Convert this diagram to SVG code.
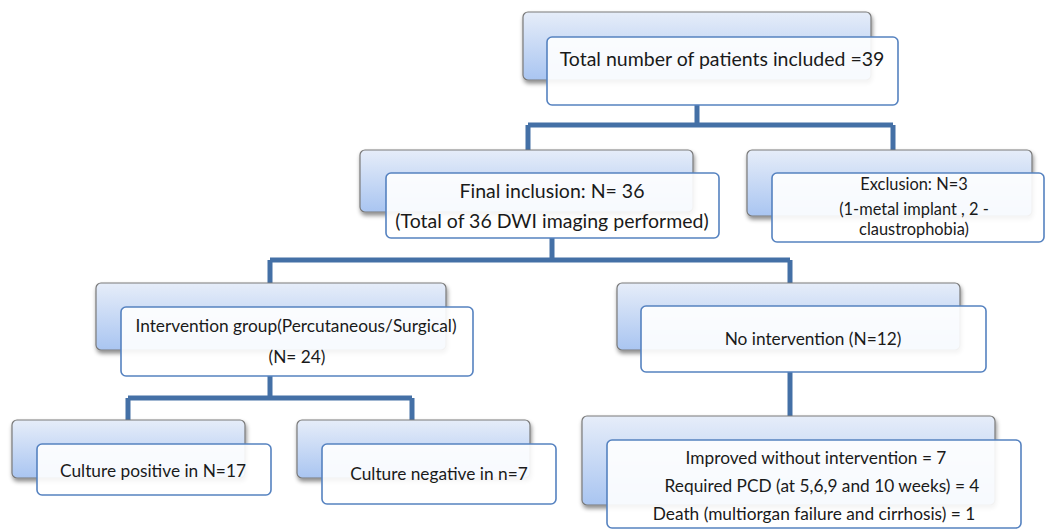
<svg xmlns="http://www.w3.org/2000/svg" width="1048" height="530" viewBox="0 0 1048 530">
<defs>
<linearGradient id="bg" x1="0" y1="0" x2="0" y2="1">
<stop offset="0" stop-color="#e6edf9"/>
<stop offset="1" stop-color="#a9c5f1"/>
</linearGradient>
<filter id="sh" x="-10%" y="-20%" width="120%" height="150%">
<feDropShadow dx="1" dy="3" stdDeviation="2" flood-color="#000" flood-opacity="0.45"/>
</filter>
</defs>
<style>
.back{fill:url(#bg);stroke:#7a7a7a;stroke-width:1.2;filter:url(#sh)}
.front{fill:#ffffff;fill-opacity:0.9;stroke:#5582c0;stroke-width:1.6}
.conn{fill:none;stroke:#4470a6;stroke-width:5}
text{font-family:Lato,"Liberation Sans",sans-serif;fill:#1a1a1a;text-anchor:middle}
.t19{font-size:19.5px}
.t17{font-size:17.3px}
.t16{font-size:16.4px}
</style>
<g id="connectors">
<path class="conn" d="M697 104V125M528 125H893M528 125V152M893 125V152"/>
<path class="conn" d="M552 238V260M270 260H790M270 260V285M790 260V285"/>
<path class="conn" d="M270 376V398M128 398H412M128 398V422M412 398V422"/>
<path class="conn" d="M790 372V418"/>
</g>
<g id="n_total">
<rect class="back" x="523" y="12" width="348" height="68" rx="5"/>
<rect class="front" x="547" y="37" width="351" height="68" rx="5"/>
<text class="t19" x="722" y="66">Total number of patients included =39</text>
</g>
<g id="n_final">
<rect class="back" x="360" y="150" width="333" height="62" rx="5"/>
<rect class="front" x="386" y="173" width="333" height="65" rx="5"/>
<text class="t19" x="552" y="198">Final inclusion: N= 36</text>
<text class="t19" x="552" y="228">(Total of 36 DWI imaging performed)</text>
</g>
<g id="n_excl">
<rect class="back" x="747" y="150" width="285" height="66" rx="5"/>
<rect class="front" x="772" y="173" width="272" height="69" rx="5"/>
<text class="t16" x="914" y="190">Exclusion: N=3</text>
<text class="t16" x="914" y="215">(1-metal implant , 2 -</text>
<text class="t16" x="914" y="235">claustrophobia)</text>
</g>
<g id="n_interv">
<rect class="back" x="96" y="283" width="350" height="67" rx="5"/>
<rect class="front" x="121" y="307" width="352" height="69" rx="5"/>
<text class="t17" x="296" y="332">Intervention group(Percutaneous/Surgical)</text>
<text class="t17" x="297" y="363">(N= 24)</text>
</g>
<g id="n_nointerv">
<rect class="back" x="617" y="283" width="343" height="67" rx="5"/>
<rect class="front" x="641" y="306" width="345" height="66" rx="5"/>
<text class="t17" x="813" y="345">No intervention (N=12)</text>
</g>
<g id="n_pos">
<rect class="back" x="12" y="420" width="233" height="58" rx="5"/>
<rect class="front" x="37" y="444" width="234" height="51" rx="5"/>
<text class="t17" x="153" y="477">Culture positive in N=17</text>
</g>
<g id="n_neg">
<rect class="back" x="297" y="420" width="233" height="58" rx="5"/>
<rect class="front" x="322" y="444" width="234" height="60" rx="5"/>
<text class="t17" x="439" y="480">Culture negative in n=7</text>
</g>
<g id="n_outcome">
<rect class="back" x="582" y="416" width="413" height="89" rx="5"/>
<rect class="front" x="607" y="440" width="414" height="88" rx="5"/>
<text class="t17" x="816" y="464">Improved without intervention = 7</text>
<text class="t17" x="822" y="492">Required PCD (at 5,6,9 and 10 weeks) = 4</text>
<text class="t17" x="814" y="520">Death (multiorgan failure and cirrhosis) = 1</text>
</g>
</svg>
